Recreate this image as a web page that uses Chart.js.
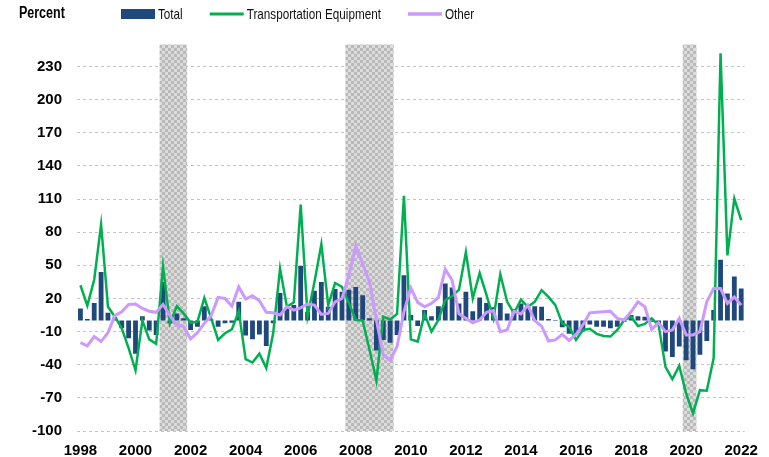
<!DOCTYPE html>
<html>
<head>
<meta charset="utf-8">
<script src="https://cdn.jsdelivr.net/npm/chart.js@4.4.1/dist/chart.umd.min.js"></script>
<style>
  html, body { margin: 0; padding: 0; background: #fff; }
  #wrap { width: 769px; height: 457px; position: relative; }
</style>
</head>
<body>
<div id="wrap"><canvas id="chart-orders"></canvas></div>
<script>
// ─── DATA ─────────────────────────────────────────────────────
// Quarterly percent change, 1998Q1 .. 2022Q1
const START_YEAR = 1998;
const N_QUARTERS = 97;

const yearTicks = ["1998","2000","2002","2004","2006","2008","2010","2012","2014","2016","2018","2020","2022"];
const yTickValues = [-100, -70, -40, -10, 20, 50, 80, 110, 140, 170, 200, 230];

const totalPct = [
  11, 1.5, 16, 44, 7, 3, -7, -16, -30, 4, -9, -13,
  35, -2.5, 6.5, 2, -8.5, -5.5, 13, 1, -5.5, -2.5, -2, 17,
  -13.5, -17, -12.5, -23, -2.5, 25, 12, 14, 49.5, 8, 27, 35,
  12.5, 28.5, 26, 28, 30.5, 23, 2, -27, -17.5, -20, -13, 41,
  5, -5, 9.5, 4, 13, 33.5, 30, 15.5, 26, 8.5, 21, 16,
  12, 16, 6.5, 10.5, 15.5, 12, 13, 12.5, 1.5, 0.5, -6, -12,
  -12, -10, -3.5, -5.5, -5.5, -7, -5.5, -1, 5, 4, 3.5, -1,
  -4, -28, -33, -23.5, -36, -44, -31, -18.5, 9.5, 55, 24.5, 40,
  29
];

const transportPct = [
  32, 13.5, 37, 87, 12.5, 3.5, -7, -25, -45, 0, -17, -21,
  49, -2.5, 13, 6.5, -2, -1, 20.5, 2, -17.5, -11.5, -8, 8.5,
  -35, -38, -30, -43, -11.5, 47, 12.5, 16.5, 105, 4, 35, 69,
  14, 34, 30.5, 16, 0.5, 0, -26.5, -54.5, 3.5, 1, 6, 113,
  -17, -19, 6, -10, 0.5, 18.5, 22, 28, 62, 20, 43, 23,
  2, 42, 17, 6.5, 19, 12.5, 17, 27.5, 21.5, 14, -2.5, -5.5,
  -17.5, -8.5, -7.5, -12, -14, -14.5, -8.5, 0.5, 3.5, -5, -3, 2,
  -4, -42, -53, -41, -66, -84, -63, -63.5, -34, 242, 59, 110.5,
  91
];

const otherPct = [
  -20, -23, -14.5, -19, -11, 4.5, 8, 14.5, 15, 11, 8.5, 7.5,
  14.5, 4.5, -4, -5.5, -16.5, -11, -2.5, 4.5, 21, 20, 13, 30.5,
  19.5, 22.5, 18, 7.5, 7, 5, 12.5, 9.5, 11.5, 15, 14, 5.5,
  6.5, 17, 20, 41, 67.5, 51.5, 35, 0.5, -31, -36, -23.5, 8,
  29.5, 16.5, 12.5, 15.5, 21, 46.5, 36.5, 6, 2, -2, 0.5, 7.5,
  9, -10, -8.5, 8.5, 6, 14, 0, -5, -18.5, -17.5, -12.5, -18,
  -12.5, -4, 7, 7.5, 8, 8.5, 2, 0.5, 8, 17, 12.5, -8,
  -2, -10, -8.5, 2, -13, -13, -10, 17, 29, 29, 15.5, 21.5,
  14
];

// Recessions, first and last quarter
const recessions = [["2001Q1","2001Q4"], ["2007Q4","2009Q2"], ["2020Q1","2020Q2"]];

const quarters = [];
for (let i = 0; i < N_QUARTERS; i++) {
  quarters.push(`${START_YEAR + Math.floor(i / 4)}Q${(i % 4) + 1}`);
}

// ─── STYLE ────────────────────────────────────────────────────
const NAVY   = "#1f497d";
const GREEN  = "#00b050";
const PURPLE = "#cc99ff";
const tickFont = { family: "'Liberation Sans', Arial, sans-serif", size: 15, weight: "bold" };
const headFont = "'Liberation Sans', Arial, sans-serif";
const SQUEEZE  = 0.78;   // narrow face for the header text

const makeHatch = () => {
  const c = document.createElement("canvas");
  c.width = 6; c.height = 6;
  const g = c.getContext("2d");
  g.fillStyle = "#dcdcdc";
  g.fillRect(0, 0, 6, 6);
  g.fillStyle = "#b9b9b9";
  g.fillRect(0, 0, 3, 3);
  g.fillRect(3, 3, 3, 3);
  return g.createPattern(c, "repeat");
};

// draw text horizontally condensed, returns drawn width
const narrowText = (ctx, text, x, y) => {
  ctx.save();
  ctx.translate(x, y);
  ctx.scale(SQUEEZE, 1);
  ctx.fillText(text, 0, 0);
  ctx.restore();
  return ctx.measureText(text).width * SQUEEZE;
};

// ─── PLUGINS ──────────────────────────────────────────────────
const recessionShading = {
  id: "recessionShading",
  beforeDatasetsDraw(chart) {
    const { ctx, chartArea, scales: { x } } = chart;
    ctx.save();
    ctx.fillStyle = makeHatch();
    recessions.forEach(([from, to]) => {
      const x0 = x.getPixelForValue(quarters.indexOf(from) - 0.5);
      const x1 = x.getPixelForValue(quarters.indexOf(to) + 0.5);
      ctx.fillRect(x0, chartArea.top, x1 - x0, chartArea.bottom - chartArea.top);
    });
    ctx.restore();
  }
};

// Unit label plus a one-line legend across the top
const topLegend = {
  id: "topLegend",
  afterDraw(chart) {
    const { ctx } = chart;
    const midY = 14;
    ctx.save();
    ctx.textBaseline = "middle";
    ctx.fillStyle = "#000";
    ctx.font = `bold 16px ${headFont}`;
    narrowText(ctx, "Percent", 19, midY);

    ctx.font = `15px ${headFont}`;
    let cx = 121;
    chart.data.datasets.forEach(ds => {
      if (ds.type === "bar") {
        ctx.fillStyle = ds.backgroundColor;
        ctx.fillRect(cx, midY - 5, 34, 10);
      } else {
        ctx.strokeStyle = ds.borderColor;
        ctx.lineWidth = ds.borderWidth + 0.5;
        ctx.beginPath();
        ctx.moveTo(cx, midY);
        ctx.lineTo(cx + 34, midY);
        ctx.stroke();
      }
      cx += 37;
      ctx.fillStyle = "#111";
      cx += narrowText(ctx, ds.label, cx, midY + 1) + 27;
    });
    ctx.restore();
  }
};

// ─── CHART ────────────────────────────────────────────────────
new Chart(document.getElementById("chart-orders"), {
  data: {
    labels: quarters,
    datasets: [
      {
        type: "bar",
        label: "Total",
        data: totalPct,
        backgroundColor: NAVY,
        barPercentage: 0.7,
        categoryPercentage: 1,
        order: 3
      },
      {
        type: "line",
        label: "Transportation Equipment",
        data: transportPct,
        borderColor: GREEN,
        borderWidth: 2.5,
        pointRadius: 0,
        tension: 0,
        order: 2
      },
      {
        type: "line",
        label: "Other",
        data: otherPct,
        borderColor: PURPLE,
        borderWidth: 3,
        pointRadius: 0,
        tension: 0,
        order: 1
      }
    ]
  },
  options: {
    responsive: true,
    maintainAspectRatio: false,
    animation: false,
    layout: { padding: { top: 44.5, right: 22.7, bottom: 0, left: 0 } },
    plugins: {
      legend: { display: false },
      tooltip: { enabled: false }
    },
    scales: {
      x: {
        type: "category",
        offset: true,
        grid: { display: false, drawTicks: false },
        border: { display: false },
        afterFit: (s) => { s.height = 26; },
        ticks: {
          autoSkip: false,
          maxRotation: 0,
          padding: 11,
          color: "#000",
          font: tickFont,
          callback: (v, i) => (i % 8 === 0 ? yearTicks[i / 8] : "")
        }
      },
      y: {
        min: -100,
        max: 250,
        afterFit: (s) => { s.width = 77; },
        afterBuildTicks: (s) => { s.ticks = yTickValues.map(v => ({ value: v })); },
        grid: { color: "#c4c4c4", lineWidth: 1, drawTicks: false },
        border: { display: false, dash: [3, 3] },
        ticks: {
          padding: 15,
          color: "#000",
          font: tickFont
        }
      }
    }
  },
  plugins: [recessionShading, topLegend]
});
</script>
</body>
</html>
